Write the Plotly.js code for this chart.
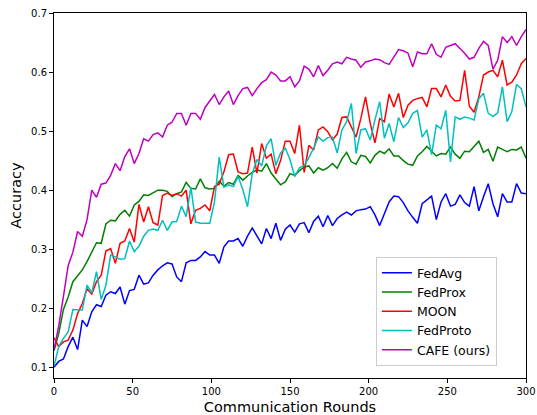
<!DOCTYPE html>
<html>
<head>
<meta charset="utf-8">
<script src="https://cdn.plot.ly/plotly-3.0.1.min.js"></script>
<style>html,body{margin:0;padding:0;background:#fff;}#chart{width:537px;height:415px;}</style>
</head>
<body>
<div id="chart"></div>
<script>
const rounds = [0,3,6,9,12,15,18,21,24,27,30,33,36,39,42,45,48,51,54,57,60,63,66,69,72,75,78,81,84,87,90,93,96,99,102,105,108,111,114,117,120,123,126,129,132,135,138,141,144,147,150,153,156,159,162,165,168,171,174,177,180,183,186,189,192,195,198,201,204,207,210,213,216,219,222,225,228,231,234,237,240,243,246,249,252,255,258,261,264,267,270,273,276,279,282,285,288,291,294,297,300];

const seriesNames = ["FedAvg", "FedProx", "MOON", "FedProto", "CAFE (ours)"];

const fedAvg = [0.100,0.110,0.114,0.135,0.151,0.130,0.180,0.169,0.194,0.206,0.203,0.222,0.228,0.225,0.236,0.207,0.230,0.232,0.256,0.241,0.243,0.256,0.265,0.272,0.277,0.275,0.253,0.245,0.277,0.281,0.281,0.287,0.296,0.290,0.290,0.276,0.304,0.314,0.314,0.318,0.305,0.322,0.336,0.323,0.309,0.335,0.318,0.344,0.315,0.334,0.341,0.329,0.343,0.345,0.328,0.347,0.356,0.338,0.357,0.340,0.352,0.358,0.363,0.358,0.365,0.367,0.368,0.372,0.358,0.340,0.359,0.380,0.390,0.389,0.379,0.365,0.354,0.344,0.377,0.384,0.390,0.350,0.380,0.394,0.373,0.376,0.392,0.379,0.373,0.406,0.365,0.389,0.411,0.377,0.355,0.394,0.380,0.380,0.411,0.395,0.394];

const fedProx = [0.128,0.157,0.198,0.219,0.245,0.255,0.265,0.279,0.294,0.311,0.310,0.343,0.349,0.348,0.359,0.366,0.356,0.375,0.381,0.392,0.391,0.395,0.400,0.400,0.398,0.389,0.394,0.397,0.413,0.403,0.402,0.419,0.404,0.402,0.403,0.415,0.407,0.413,0.410,0.425,0.417,0.424,0.430,0.434,0.432,0.445,0.429,0.419,0.409,0.414,0.428,0.425,0.433,0.439,0.441,0.429,0.438,0.434,0.438,0.445,0.437,0.453,0.464,0.448,0.444,0.459,0.457,0.446,0.459,0.466,0.462,0.470,0.458,0.458,0.450,0.444,0.442,0.458,0.465,0.474,0.466,0.458,0.462,0.461,0.473,0.461,0.454,0.466,0.465,0.474,0.483,0.464,0.469,0.449,0.473,0.469,0.465,0.469,0.468,0.473,0.454];

const moon = [0.150,0.135,0.143,0.146,0.163,0.191,0.208,0.233,0.224,0.245,0.256,0.297,0.301,0.276,0.310,0.314,0.335,0.312,0.376,0.346,0.372,0.345,0.341,0.391,0.395,0.391,0.394,0.390,0.400,0.343,0.366,0.369,0.375,0.365,0.406,0.410,0.431,0.460,0.461,0.431,0.428,0.429,0.473,0.429,0.479,0.454,0.461,0.428,0.450,0.483,0.483,0.462,0.510,0.430,0.476,0.468,0.502,0.507,0.499,0.485,0.495,0.523,0.524,0.508,0.490,0.521,0.558,0.513,0.480,0.521,0.516,0.563,0.541,0.564,0.523,0.544,0.552,0.555,0.557,0.541,0.572,0.572,0.558,0.578,0.559,0.551,0.552,0.603,0.542,0.532,0.558,0.595,0.600,0.603,0.592,0.620,0.578,0.583,0.595,0.614,0.623];

const fedProto = [0.102,0.135,0.149,0.160,0.198,0.198,0.197,0.239,0.226,0.262,0.215,0.239,0.290,0.287,0.283,0.284,0.314,0.296,0.305,0.322,0.332,0.334,0.332,0.349,0.332,0.346,0.347,0.373,0.355,0.405,0.346,0.344,0.344,0.344,0.380,0.456,0.405,0.409,0.406,0.423,0.401,0.372,0.428,0.452,0.441,0.475,0.487,0.442,0.463,0.471,0.452,0.423,0.438,0.442,0.455,0.471,0.490,0.483,0.489,0.490,0.463,0.502,0.516,0.547,0.462,0.502,0.504,0.485,0.519,0.550,0.488,0.513,0.482,0.523,0.506,0.514,0.530,0.535,0.490,0.502,0.460,0.510,0.504,0.535,0.448,0.524,0.520,0.524,0.522,0.519,0.555,0.564,0.530,0.525,0.531,0.575,0.516,0.533,0.579,0.572,0.541];

const cafe = [0.130,0.170,0.220,0.272,0.295,0.330,0.322,0.350,0.400,0.388,0.410,0.412,0.425,0.445,0.433,0.457,0.470,0.445,0.462,0.487,0.483,0.494,0.497,0.490,0.510,0.515,0.530,0.530,0.510,0.530,0.530,0.520,0.540,0.550,0.562,0.545,0.558,0.568,0.545,0.560,0.572,0.574,0.560,0.572,0.582,0.587,0.600,0.595,0.585,0.585,0.592,0.575,0.585,0.610,0.605,0.592,0.611,0.594,0.603,0.614,0.617,0.614,0.625,0.622,0.620,0.608,0.617,0.619,0.622,0.621,0.616,0.613,0.625,0.638,0.636,0.632,0.609,0.634,0.631,0.631,0.648,0.630,0.625,0.642,0.645,0.648,0.640,0.632,0.622,0.625,0.640,0.652,0.645,0.605,0.620,0.660,0.650,0.660,0.645,0.660,0.672];

const yTicks = [0.1, 0.2, 0.3, 0.4, 0.5, 0.6, 0.7];
const xTicks = [0, 50, 100, 150, 200, 250, 300];

const seriesValues = [fedAvg, fedProx, moon, fedProto, cafe];
const colors = ["#0000ff", "#008000", "#ff0000", "#00bfbf", "#bf00bf"];

const traces = seriesValues.map((vals, i) => ({
  x: rounds,
  y: vals,
  type: "scatter",
  mode: "lines",
  name: seriesNames[i],
  line: {color: colors[i], width: 1.5}
}));

const font = {family: "DejaVu Sans, sans-serif", color: "#000"};

const layout = {
  width: 537,
  height: 415,
  margin: {l: 54, r: 11, t: 13, b: 37},
  paper_bgcolor: "#fff",
  plot_bgcolor: "#fff",
  font: Object.assign({size: 10}, font),
  showlegend: true,
  legend: {
    x: 0.682, y: 0.331, xanchor: "left", yanchor: "top",
    bgcolor: "rgba(255,255,255,0.8)",
    bordercolor: "#cccccc", borderwidth: 1,
    font: Object.assign({size: 12.5}, font),
    tracegroupgap: 0
  },
  xaxis: {
    range: [0, 300],
    tickvals: xTicks,
    ticktext: xTicks.map(String),
    ticks: "outside", ticklen: 4, tickwidth: 1, tickcolor: "#000",
    showline: true, linecolor: "#000", linewidth: 1, mirror: true,
    showgrid: false, zeroline: false,
    tickfont: Object.assign({size: 10}, font),
    title: {text: "Communication Rounds", font: Object.assign({size: 14.5}, font), standoff: 5}
  },
  yaxis: {
    range: [0.0819, 0.7],
    tickvals: yTicks,
    ticktext: yTicks.map(v => v.toFixed(1)),
    ticks: "outside", ticklen: 4, tickwidth: 1, tickcolor: "#000",
    showline: true, linecolor: "#000", linewidth: 1, mirror: true,
    showgrid: false, zeroline: false,
    tickfont: Object.assign({size: 10}, font),
    title: {text: "Accuracy", font: Object.assign({size: 14.5}, font), standoff: 6}
  }
};

Plotly.newPlot("chart", traces, layout, {displayModeBar: false, staticPlot: true});
</script>
</body>
</html>
